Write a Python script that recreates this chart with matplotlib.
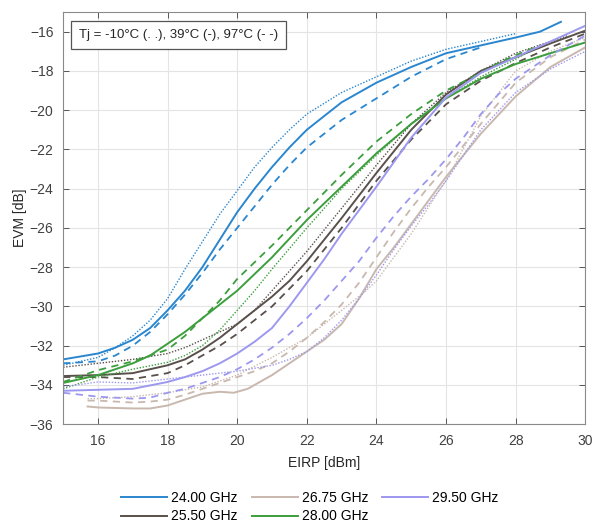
import matplotlib
matplotlib.use("Agg")
import matplotlib.pyplot as plt

# ---------------- data ----------------
freq_labels = ["24.00 GHz", "25.50 GHz", "26.75 GHz", "28.00 GHz", "29.50 GHz"]
colors = ["#2a86cf", "#5a504b", "#c9b8ae", "#3c9e3c", "#9d98ef"]

# 24.00 GHz
b_sol_x = [15, 16, 16.5, 17, 17.5, 18, 18.5, 19, 19.5, 20, 20.5, 21, 21.5, 22, 23, 24, 25, 26, 27, 28, 28.7, 29.3]
b_sol_y = [-32.7, -32.4, -32.1, -31.7, -31.1, -30.2, -29.2, -28.0, -26.6, -25.2, -24.0, -22.9, -21.9, -21.0, -19.6, -18.6, -17.8, -17.1, -16.7, -16.3, -16.0, -15.5]
b_dsh_x = [15, 16, 16.5, 17, 17.5, 18, 18.5, 19, 19.5, 20, 20.5, 21, 21.5, 22, 23, 24, 25, 26, 27]
b_dsh_y = [-32.9, -32.8, -32.5, -32.0, -31.3, -30.4, -29.4, -28.3, -27.1, -26.0, -24.9, -23.8, -22.8, -21.9, -20.5, -19.4, -18.3, -17.4, -16.8]
b_dot_x = [15, 16, 16.5, 17, 17.5, 18, 18.5, 19, 19.5, 20, 20.5, 21, 21.5, 22, 23, 24, 25, 26, 27, 28]
b_dot_y = [-33.0, -32.6, -32.1, -31.5, -30.7, -29.6, -28.1, -26.7, -25.3, -24.1, -22.9, -21.9, -21.0, -20.2, -19.1, -18.3, -17.5, -16.9, -16.5, -16.1]

# 25.50 GHz
g_sol_x = [15, 16, 17, 18, 18.5, 19, 19.5, 20, 20.5, 21, 21.5, 22, 23, 24, 25, 26, 27, 28, 29, 30]
g_sol_y = [-33.55, -33.5, -33.4, -33.0, -32.7, -32.2, -31.6, -30.9, -30.2, -29.5, -28.7, -27.7, -25.5, -23.2, -21.0, -19.2, -18.0, -17.3, -16.6, -15.95]
g_dsh_x = [15, 16, 17, 18, 18.5, 19, 19.5, 20, 20.5, 21, 22, 23, 24, 25, 26, 27, 28, 29, 30]
g_dsh_y = [-33.6, -33.6, -33.7, -33.4, -33.0, -32.5, -32.0, -31.4, -30.7, -30.0, -28.2, -26.0, -23.6, -21.5, -19.7, -18.5, -17.6, -16.8, -16.1]
g_dot_x = [15, 16, 17, 18, 18.5, 19, 19.5, 20, 20.5, 21, 21.5, 22, 23, 24, 25, 26, 27, 28, 29, 29.5]
g_dot_y = [-33.1, -32.9, -32.7, -32.4, -32.1, -31.7, -31.3, -30.9, -30.2, -29.2, -28.2, -27.2, -25.0, -22.8, -20.7, -19.1, -18.0, -17.1, -16.5, -16.2]

# 26.75 GHz
t_sol_x = [15.7, 16, 17, 17.5, 18, 18.5, 19, 19.5, 19.9, 20.3, 21, 21.5, 22, 22.5, 23, 23.5, 24, 24.5, 25, 25.5, 26, 27, 28, 29, 30]
t_sol_y = [-35.1, -35.15, -35.2, -35.2, -35.05, -34.75, -34.45, -34.35, -34.4, -34.2, -33.5, -32.9, -32.3, -31.7, -30.9, -29.6, -28.1, -27.0, -25.8, -24.6, -23.4, -21.2, -19.3, -17.8, -16.8]
t_dsh_x = [15.7, 16, 17, 17.5, 18, 18.5, 19, 19.5, 20, 20.5, 21, 21.5, 22, 22.5, 23, 23.5, 24, 24.5, 25, 25.5, 26, 26.5, 27, 28, 29, 30]
t_dsh_y = [-34.8, -34.8, -34.9, -34.85, -34.75, -34.5, -34.2, -33.9, -33.6, -33.3, -32.9, -32.3, -31.6, -30.8, -29.9, -28.8, -27.5, -26.2, -25.0, -23.9, -22.9, -21.8, -20.7, -18.6, -17.3, -16.4]
t_dot_x = [15.7, 16, 17, 18, 19, 20, 20.66, 21, 22, 23, 23.7, 24, 25, 25.8, 26, 27, 28, 29, 30]
t_dot_y = [-34.7, -34.7, -34.6, -34.4, -34.1, -33.5, -32.9, -32.6, -31.6, -30.2, -29.2, -28.7, -26.3, -24.1, -23.6, -20.3, -18.0, -17.0, -16.3]

# 28.00 GHz
gr_sol_x = [15, 16, 17, 17.5, 18, 18.5, 19, 19.5, 20, 21, 22, 23, 24, 25, 26, 27, 28, 29, 30]
gr_sol_y = [-33.9, -33.5, -32.9, -32.5, -31.9, -31.3, -30.6, -29.9, -29.2, -27.5, -25.6, -23.9, -22.2, -20.7, -19.4, -18.4, -17.65, -17.1, -16.55]
gr_dsh_x = [15, 16, 17, 17.5, 18, 18.5, 19, 19.5, 20, 21, 22, 23, 24, 25, 26, 27, 27.5, 28, 28.7]
gr_dsh_y = [-33.85, -33.25, -32.8, -32.5, -32.2, -31.5, -30.6, -29.7, -28.6, -26.9, -25.1, -23.3, -21.6, -20.2, -19.0, -18.1, -17.6, -17.2, -16.7]
gr_dot_x = [15, 15.5, 16, 17, 18, 18.5, 19, 19.5, 20, 20.5, 21, 22, 23, 24, 25, 26, 27, 28, 28.5]
gr_dot_y = [-34.2, -33.9, -33.6, -33.2, -32.85, -32.5, -32.0, -31.2, -30.2, -29.2, -28.1, -26.0, -24.0, -22.3, -20.7, -19.4, -18.3, -17.4, -16.9]

# 29.50 GHz
l_sol_x = [15, 16, 17, 18, 18.5, 19, 19.5, 20, 20.5, 21, 21.5, 22, 22.5, 23, 24, 25, 26, 27, 28, 29, 30]
l_sol_y = [-34.3, -34.25, -34.2, -33.85, -33.6, -33.3, -32.9, -32.4, -31.8, -31.1, -30.0, -28.8, -27.6, -26.3, -23.9, -21.4, -19.35, -18.1, -17.3, -16.5, -15.7]
l_dsh_x = [15, 15.5, 16, 17, 17.5, 18, 18.5, 19, 19.5, 20, 20.5, 21, 21.5, 22, 22.5, 23, 23.5, 24, 24.5, 25, 25.5, 26, 26.5, 27, 27.5, 28, 29, 30]
l_dsh_y = [-34.4, -34.5, -34.6, -34.7, -34.65, -34.4, -34.2, -33.9, -33.6, -33.2, -32.7, -32.1, -31.4, -30.6, -29.7, -28.7, -27.7, -26.5, -25.4, -24.4, -23.5, -22.5, -21.4, -20.2, -19.2, -18.4, -17.2, -16.2]
l_dot_x = [15, 16, 17, 18, 19, 20, 21, 21.5, 22, 22.5, 23, 23.5, 24, 24.5, 25, 25.5, 26, 27, 28, 29, 30]
l_dot_y = [-34.1, -33.85, -33.9, -33.7, -33.5, -33.3, -33.0, -32.7, -32.3, -31.6, -30.7, -29.6, -28.4, -27.1, -25.9, -24.8, -23.6, -21.0, -19.1, -17.9, -17.0]

series = [
    (b_sol_x, b_sol_y, b_dsh_x, b_dsh_y, b_dot_x, b_dot_y),
    (g_sol_x, g_sol_y, g_dsh_x, g_dsh_y, g_dot_x, g_dot_y),
    (t_sol_x, t_sol_y, t_dsh_x, t_dsh_y, t_dot_x, t_dot_y),
    (gr_sol_x, gr_sol_y, gr_dsh_x, gr_dsh_y, gr_dot_x, gr_dot_y),
    (l_sol_x, l_sol_y, l_dsh_x, l_dsh_y, l_dot_x, l_dot_y),
]

x_ticks = [16, 18, 20, 22, 24, 26, 28, 30]
y_ticks = [-36, -34, -32, -30, -28, -26, -24, -22, -20, -18, -16]

# ---------------- plot ----------------
plt.rcParams['font.family'] = ['Liberation Sans', 'DejaVu Sans']
fig = plt.figure(figsize=(5.96, 5.23), dpi=100)
ax = fig.add_axes([0.106, 0.189, 0.876, 0.788])

for (sx, sy, dx, dy, ox, oy), c, lab in zip(series, colors, freq_labels):
    ax.plot(ox, oy, color=c, lw=1.0, linestyle=(0, (1, 1.2)))
    ax.plot(dx, dy, color=c, lw=1.3, linestyle=(0, (4, 3)))
    ax.plot(sx, sy, color=c, lw=1.4, label=lab)

ax.set_xlim(15, 30)
ax.set_ylim(-36, -15)
ax.set_xticks(x_ticks)
ax.set_yticks(y_ticks)
ax.grid(True, color="#e4e4e4", lw=0.8)
ax.set_axisbelow(True)
ax.tick_params(direction="in", top=True, right=True, labelsize=10, colors="#404040",
               length=4, width=0.6, pad=7)
for sp in ax.spines.values():
    sp.set_color("#8a8a8a")
    sp.set_linewidth(0.8)

ax.set_xlabel("EIRP [dBm]", fontsize=10, color="#262626", labelpad=6)
ax.set_ylabel("EVM [dB]", fontsize=10, color="#262626", labelpad=2)

ax.text(0.03, 0.944, "Tj = -10°C (. .), 39°C (-), 97°C (- -)", transform=ax.transAxes,
        fontsize=9.5, color="#262626", va="center", ha="left",
        bbox=dict(boxstyle="square,pad=0.6", fc="white", ec="#555555", lw=0.9))

fig.legend(loc="center", bbox_to_anchor=(0.52, 0.03), ncol=3, frameon=False,
           fontsize=10, handlelength=3.3, handletextpad=0.3, columnspacing=1.0,
           labelspacing=0.3, borderpad=0.1)

fig.savefig("out.png", dpi=100)
